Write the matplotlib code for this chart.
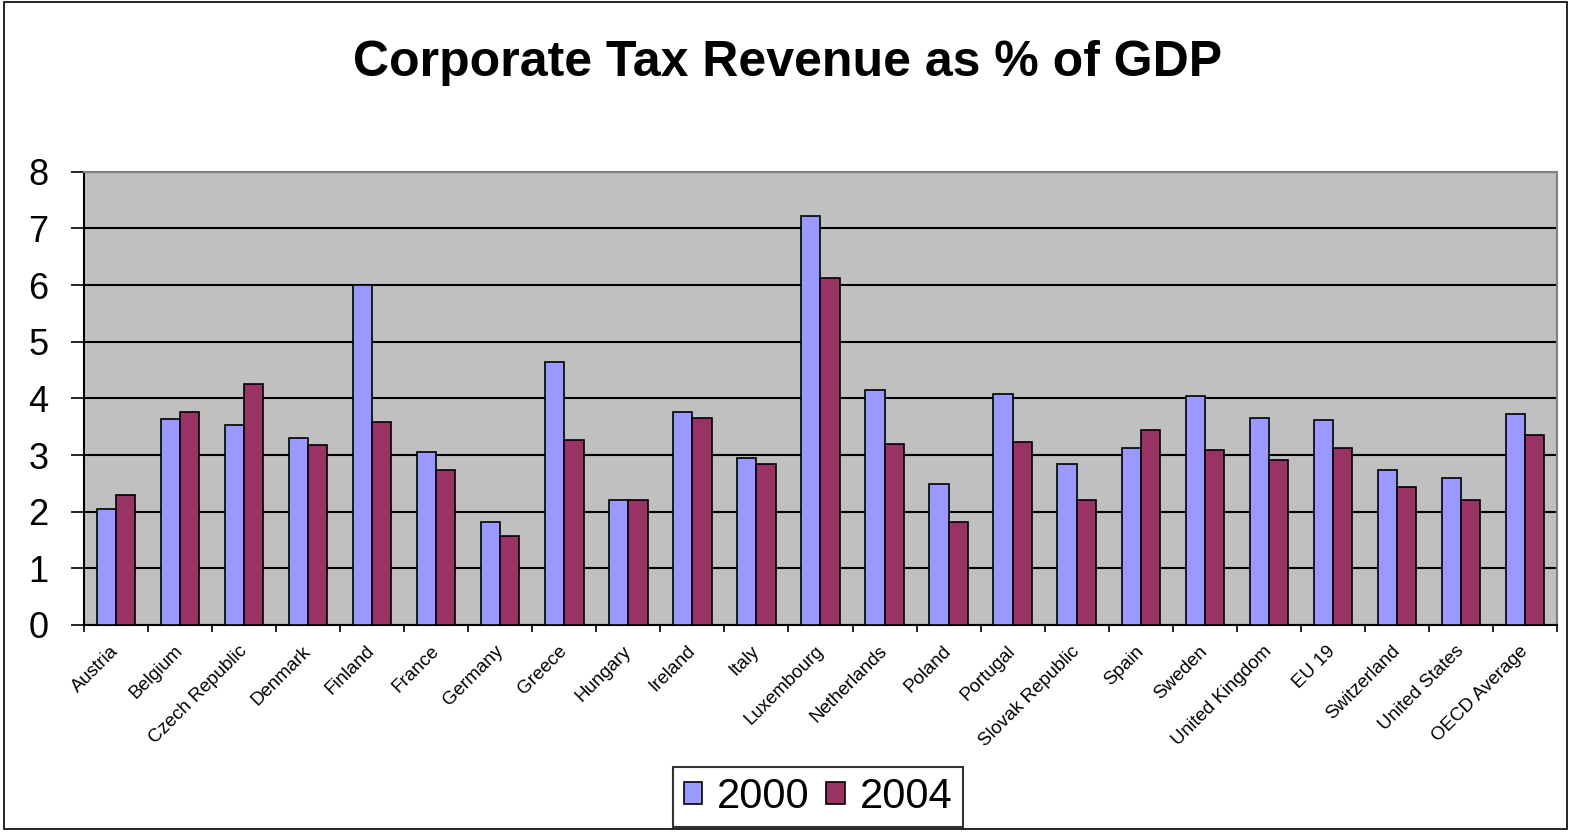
import matplotlib
matplotlib.use("Agg")
import matplotlib.pyplot as plt
from matplotlib.patches import Rectangle
import numpy as np

# 数据
countries = [
    "Austria", "Belgium", "Czech Republic", "Denmark", "Finland", "France",
    "Germany", "Greece", "Hungary", "Ireland", "Italy", "Luxembourg",
    "Netherlands", "Poland", "Portugal", "Slovak Republic", "Spain", "Sweden",
    "United Kingdom", "EU 19", "Switzerland", "United States", "OECD Average"
]
values_2000 = [2.04, 3.64, 3.53, 3.30, 6.00, 3.06, 1.81, 4.64, 2.21, 3.76, 2.94, 7.21,
               4.14, 2.48, 4.08, 2.85, 3.12, 4.05, 3.65, 3.62, 2.74, 2.59, 3.73]
values_2004 = [2.30, 3.76, 4.25, 3.18, 3.58, 2.74, 1.57, 3.26, 2.21, 3.65, 2.85, 6.13,
               3.20, 1.81, 3.23, 2.21, 3.44, 3.09, 2.91, 3.12, 2.44, 2.21, 3.35]
series_labels = ["2000", "2004"]
colors = ["#9999FF", "#993366"]

plt.rcParams['font.family'] = ['Liberation Sans', 'DejaVu Sans']

fig = plt.figure(figsize=(15.75, 8.35), dpi=100)
ax = fig.add_axes([0.0533, 0.2515, 0.9353, 0.5429])

x = np.arange(len(countries))
w = 0.3
ax.bar(x - w / 2, values_2000, w, color=colors[0], edgecolor="black", linewidth=1.2,
       label=series_labels[0], zorder=3)
ax.bar(x + w / 2, values_2004, w, color=colors[1], edgecolor="black", linewidth=1.2,
       label=series_labels[1], zorder=3)

ax.set_facecolor("#C0C0C0")
ax.set_xlim(-0.5, len(countries) - 0.5)
ax.set_ylim(0, 8)
ax.set_yticks(range(0, 9))
ax.yaxis.grid(True, color="black", linewidth=1.5, zorder=1)
ax.set_axisbelow(True)

# 刻度在类别边界处，标签在类别中心
ax.set_xticks(x)
ax.set_xticks(np.arange(-0.5, len(countries)), minor=True)
ax.set_xticklabels(countries, rotation=45, ha="right", va="center",
                   rotation_mode="anchor", fontsize=13.5)
ax.tick_params(axis="x", which="major", length=0, pad=17)
ax.tick_params(axis="x", which="minor", length=5, width=1.2, direction="out")
ax.tick_params(axis="y", length=9.4, width=1.2, direction="out", labelsize=26, pad=16)

for s in ["left", "bottom"]:
    ax.spines[s].set_color("black")
    ax.spines[s].set_linewidth(1.5)
for s in ["top", "right"]:
    ax.spines[s].set_color("#808080")
    ax.spines[s].set_linewidth(1.5)

fig.text(0.5, 0.9246, "Corporate Tax Revenue as % of GDP", ha="center", va="center",
         fontsize=36, fontweight="bold")

leg = fig.legend(loc="center", bbox_to_anchor=(0.5194, 0.0455), ncol=2, fontsize=30,
                 frameon=True, fancybox=False, edgecolor="black", handlelength=0.45,
                 handleheight=0.45, handletextpad=0.35, columnspacing=0.4,
                 borderpad=0.25, borderaxespad=0)
leg.get_frame().set_linewidth(1.5)

# 外框
fig.patches.append(Rectangle((0.0025, 0.0072), 0.9924, 0.9904, transform=fig.transFigure,
                             fill=False, edgecolor="black", linewidth=1.2))

fig.savefig("out.png", dpi=100)
